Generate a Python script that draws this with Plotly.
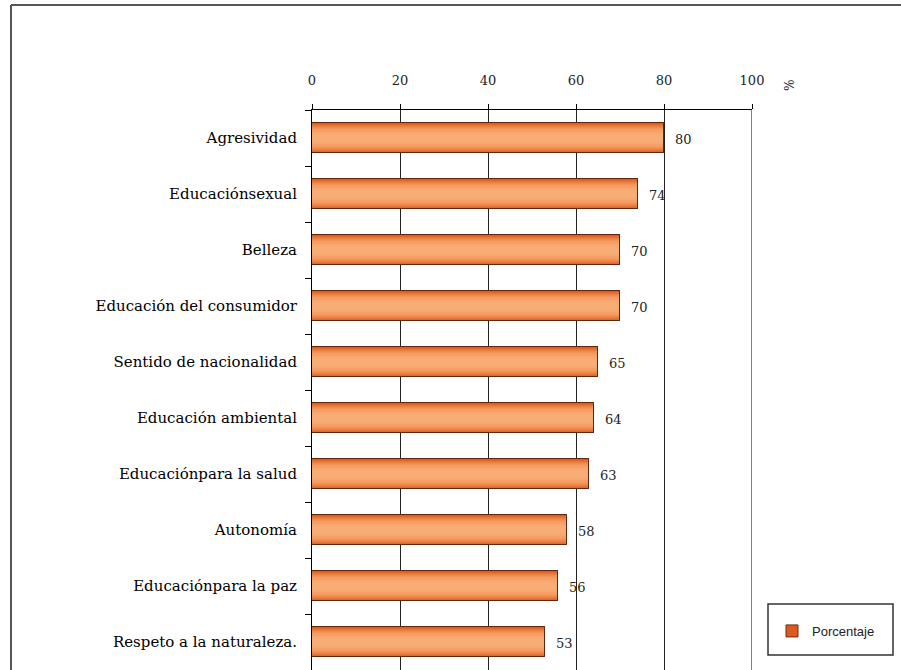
import plotly.graph_objects as go

# Survey results: share of respondents per topic (%)
categorias = [
    "Agresividad",
    "Educaciónsexual",
    "Belleza",
    "Educación del consumidor",
    "Sentido de nacionalidad",
    "Educación ambiental",
    "Educaciónpara la salud",
    "Autonomía",
    "Educaciónpara la paz",
    "Respeto a la naturaleza.",
]
porcentaje = [80, 74, 70, 70, 65, 64, 63, 58, 56, 53]
x_ticks = [0, 20, 40, 60, 80, 100]
serie = "Porcentaje"

W, H = 901, 670
ML, MR, MT, MB = 312, 149, 110, 0
PW, PH = W - ML - MR, H - MT - MB


def px_x(p):
    return (p - ML) / PW


def px_y(p):
    return (H - MB - p) / PH


serif = "DejaVu Serif"

fig = go.Figure()

# Layered bars of decreasing thickness give the cylinder-like shading
layers = [
    (0.55, "#DD5A20"),
    (0.51, "#E4672C"),
    (0.47, "#E97437"),
    (0.43, "#EC7F42"),
    (0.39, "#EF894C"),
    (0.35, "#F19256"),
    (0.31, "#F39A5F"),
    (0.27, "#F4A067"),
    (0.23, "#F6A56D"),
    (0.18, "#F7A972"),
    (0.12, "#F8AC76"),
]
for i, (w, c) in enumerate(layers):
    fig.add_trace(go.Bar(
        y=categorias, x=porcentaje, orientation="h",
        width=w, marker=dict(color=c, line=dict(width=1 if i == 0 else 0, color="#6B2E12")),
        name=serie, showlegend=(i == 0), hoverinfo="skip",
    ))

# Outline on top of the shading
fig.add_trace(go.Bar(
    y=categorias, x=porcentaje, orientation="h", width=0.55,
    marker=dict(color="rgba(0,0,0,0)", line=dict(width=1, color="#5E2810")),
    showlegend=False, name=serie, hoverinfo="skip",
))

annotations = []
for cat, v in zip(categorias, porcentaje):
    annotations.append(dict(
        x=v, y=cat, xref="x", yref="y", text=str(v), showarrow=False,
        xanchor="left", xshift=9, yshift=-1,
        font=dict(family=serif, size=13, color="#222222"),
    ))

annotations.append(dict(
    x=px_x(797), y=px_y(77), xref="paper", yref="paper", text="%",
    showarrow=False, textangle=90, font=dict(family=serif, size=12, color="#222222"),
))

shapes = [
    # right border of the plotting area
    dict(type="line", xref="x", yref="paper", x0=100, x1=100, y0=0, y1=1,
         line=dict(color="#808080", width=2), layer="above"),
    # outer chart frame
    dict(type="line", xref="paper", yref="paper", x0=px_x(11), x1=px_x(11),
         y0=-0.05, y1=px_y(5), line=dict(color="#555555", width=2)),
    dict(type="line", xref="paper", yref="paper", x0=px_x(11), x1=1.6,
         y0=px_y(5), y1=px_y(5), line=dict(color="#555555", width=2)),
    # legend frame
    dict(type="rect", xref="paper", yref="paper", x0=px_x(768), x1=px_x(893),
         y0=px_y(655), y1=px_y(604), line=dict(color="#333333", width=1.5)),
]

fig.update_layout(
    width=W, height=H,
    margin=dict(l=ML, r=MR, t=MT, b=MB, pad=0),
    paper_bgcolor="white", plot_bgcolor="white",
    barmode="overlay", bargap=0,
    showlegend=True,
    legend=dict(x=px_x(772), y=px_y(631), xanchor="left", yanchor="middle",
                bgcolor="rgba(0,0,0,0)", borderwidth=0, itemwidth=30,
                font=dict(family="Liberation Sans", size=13, color="#222222")),
    annotations=annotations,
    shapes=shapes,
    xaxis=dict(
        side="top", range=[0, 100], tickvals=x_ticks, ticktext=[str(t) for t in x_ticks],
        showgrid=True, gridcolor="#222222", gridwidth=1, zeroline=False,
        showline=True, linecolor="black", linewidth=1,
        ticks="outside", ticklen=5, tickcolor="black", ticklabelstandoff=14,
        tickfont=dict(family=serif, size=13, color="#222222"),
    ),
    yaxis=dict(
        type="category", categoryorder="array", categoryarray=categorias,
        range=[9.5, -0.5], showgrid=False, zeroline=False,
        showline=True, linecolor="black", linewidth=1,
        ticks="outside", tickson="boundaries", ticklen=6, tickcolor="black",
        ticklabelstandoff=11,
        tickfont=dict(family=serif, size=15, color="black"),
    ),
)

fig.write_html("out.html")
